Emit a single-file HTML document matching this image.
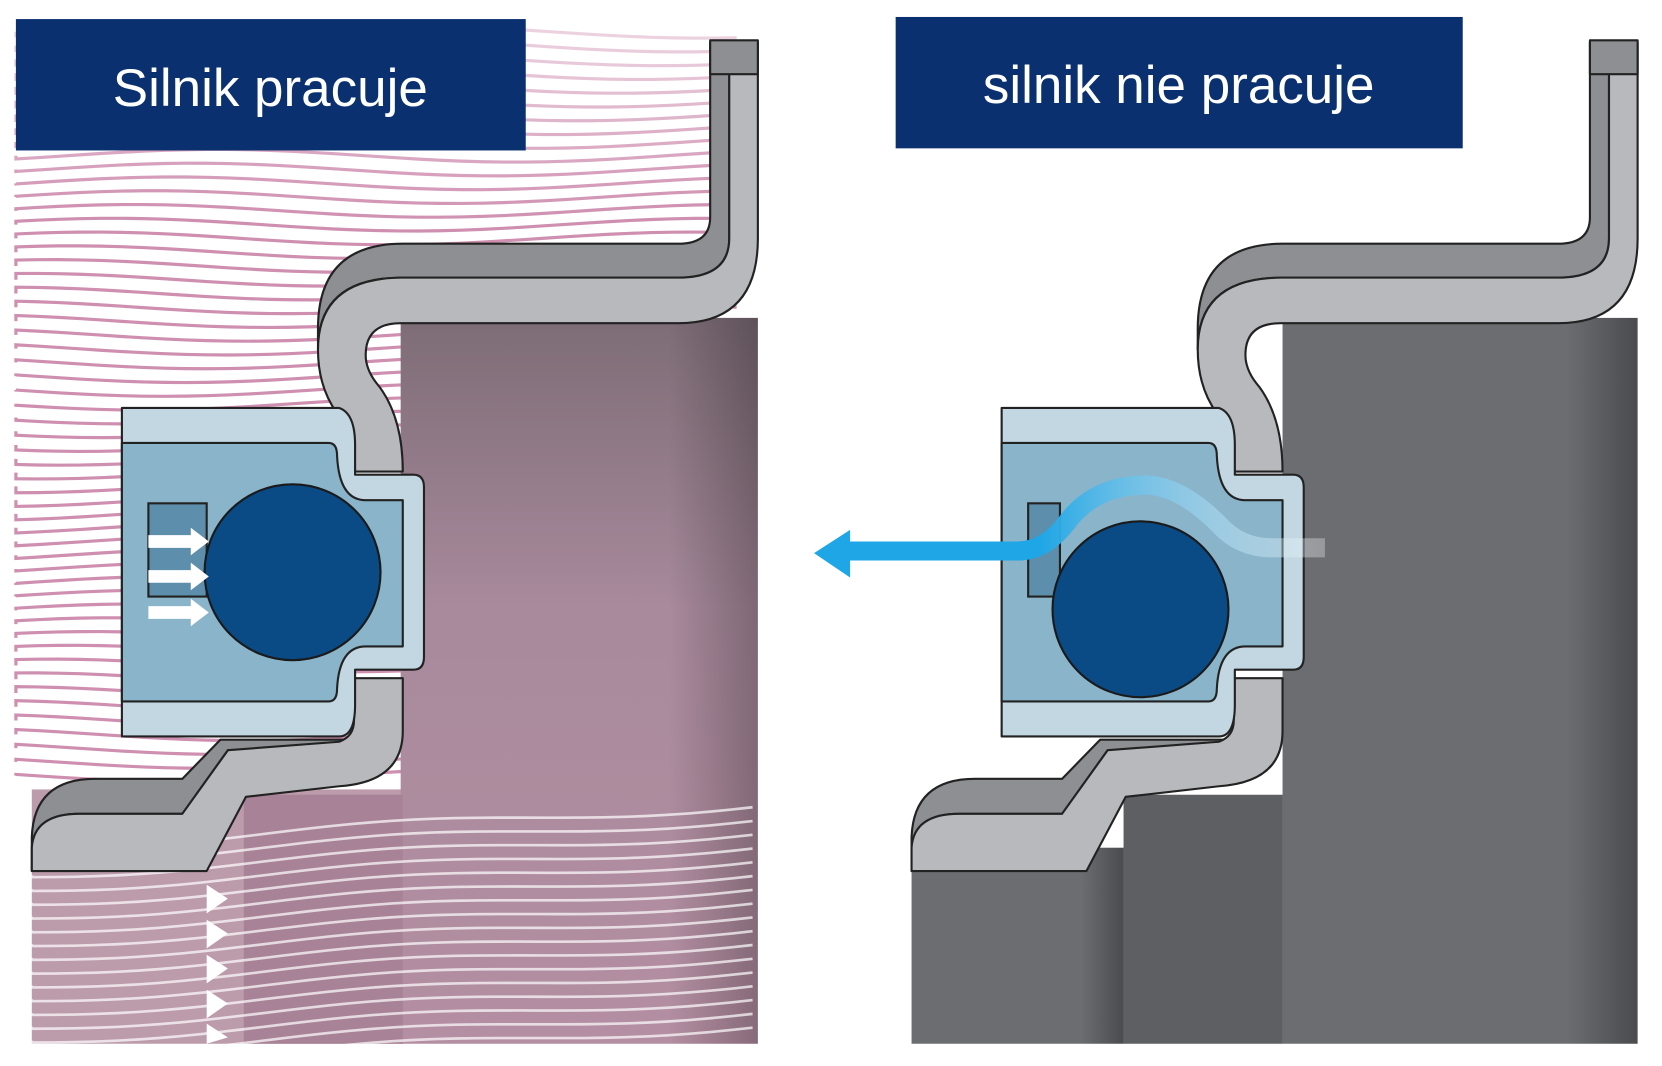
<!DOCTYPE html>
<html><head><meta charset="utf-8"><style>
html,body{margin:0;padding:0;background:#fff}
svg{display:block}
text{font-family:"Liberation Sans",sans-serif}
</style></head><body>
<svg id="s" width="1662" height="1066" viewBox="0 0 1568 1006" preserveAspectRatio="none" xmlns="http://www.w3.org/2000/svg">
<defs>
<linearGradient id="pk" x1="0" y1="0" x2="0" y2="1">
<stop offset="0" stop-color="#7d6c76"/><stop offset="0.4" stop-color="#a88a9c"/><stop offset="1" stop-color="#b48ea2"/></linearGradient>
<linearGradient id="pkh" x1="0" y1="0" x2="1" y2="0">
<stop offset="0" stop-color="#000" stop-opacity="0"/><stop offset="0.75" stop-color="#000" stop-opacity="0"/><stop offset="1" stop-color="#000" stop-opacity="0.25"/></linearGradient>
<linearGradient id="gr" x1="0" y1="0" x2="1" y2="0">
<stop offset="0" stop-color="#6c6d71"/><stop offset="0.8" stop-color="#6c6d71"/><stop offset="1" stop-color="#4a4b4e"/></linearGradient>
<linearGradient id="ar" x1="0" y1="0" x2="1" y2="0">
<stop offset="0" stop-color="#1ea6e6"/><stop offset="0.4" stop-color="#1ea6e6"/><stop offset="1" stop-color="#fff" stop-opacity="0.3"/></linearGradient>
</defs>
<g id="lines"></g>
<!-- left body -->
<rect x="378" y="300" width="337" height="685" fill="url(#pk)"/>
<rect x="378" y="300" width="337" height="685" fill="url(#pkh)"/>
<rect x="30" y="745" width="350" height="240" fill="#b08a9c" opacity="0.85"/>
<rect x="230" y="750" width="150" height="235" fill="#a88296"/>
<g id="wl"></g>
<!-- right body -->
<rect x="1210" y="300" width="335" height="685" fill="url(#gr)"/>
<rect x="860" y="800" width="200" height="185" fill="url(#gr)"/>
<rect x="1060" y="750" width="150" height="235" fill="#5e5f63"/>
<g id="hL" stroke="#222" stroke-width="2" stroke-linejoin="round">
<!-- housing top -->
<path d="M670,40 V205 Q670,230 640,230 H380 Q300,230 300,310 V330 Q300,262 380,262 H640 Q688,262 688,225 V40 Z" fill="#8e8f93"/>
<path d="M715,40 V225 Q715,305 640,305 H378 Q345,305 345,335 Q345,350 358,365 Q380,395 380,445 H332 V430 Q332,405 318,390 Q300,365 300,330 Q300,262 380,262 H640 Q688,262 688,225 V40 Z" fill="#b8b9bc"/>
<rect x="670" y="38" width="45" height="32" fill="#8e8f93"/>
<!-- housing bottom -->
<path d="M30,822 V790 Q32,735 90,735 H172 L208,698 H335 V720 L215,708 L172,768 H75 Q32,768 32,800 Z" fill="#8e8f93"/>
<path d="M380,640 V690 Q380,738 320,742 L232,752 L195,822 H30 V800 Q32,768 75,768 H172 L215,708 L320,700 Q334,695 334,680 V640 Z" fill="#b8b9bc"/>
<!-- seal -->
<path d="M115,385 H320 Q335,390 335,420 V448 H390 Q400,448 400,460 V620 Q400,632 390,632 H335 V665 Q335,695 320,695 H115 Z" fill="#c2d7e2"/>
<path d="M115,418 H310 Q318,418 318,430 Q320,472 345,472 H380 V610 H345 Q320,610 318,650 Q318,662 310,662 H115 Z" fill="#8ab4ca"/>
</g>
<use href="#hL" transform="translate(830,0)"/>
<rect x="140" y="475" width="55" height="88" fill="#5d8eab" stroke="#222" stroke-width="2"/>
<rect x="970" y="475" width="30" height="88" fill="#5d8eab" stroke="#222" stroke-width="2"/>
<circle cx="276" cy="540" r="83" fill="#0a4a85" stroke="#1a1a1a" stroke-width="2"/>
<circle cx="1076" cy="575" r="83" fill="#0a4a85" stroke="#1a1a1a" stroke-width="2"/>
<path d="M1250,517 H1200 Q1170,517 1150,495 Q1110,455 1075,458 Q1030,460 1005,495 Q985,520 960,520 H800" fill="none" stroke="url(#ar)" stroke-width="18"/>
<polygon points="768,522 802,500 802,545" fill="#1ea6e6"/>
<!-- white arrows -->
<g fill="#fff">
<polygon points="140,505 180,505 180,498 197,511 180,524 180,517 140,517"/>
<polygon points="140,538 180,538 180,531 197,544 180,557 180,550 140,550"/>
<polygon points="140,572 180,572 180,565 197,578 180,591 180,584 140,584"/>
<polygon points="195,835 215,848 195,862"/>
<polygon points="195,868 215,881 195,895"/>
<polygon points="195,901 215,914 195,928"/>
<polygon points="195,934 215,947 195,961"/>
<polygon points="195,966 215,979 195,985"/>
</g>
<rect x="15" y="18" width="481" height="124" fill="#0a3070"/>
<text x="255" y="100" font-size="50" fill="#fff" text-anchor="middle">Silnik pracuje</text>
<rect x="845" y="16" width="535" height="124" fill="#0a3070"/>
<text x="1112" y="97" font-size="50" fill="#fff" text-anchor="middle">silnik nie pracuje</text>
</svg>
<script>
var ns="http://www.w3.org/2000/svg",g=document.getElementById("lines"),w=document.getElementById("wl");
for(var y=30;y<745;y+=13){var p=document.createElementNS(ns,"path");var d="M15,"+y;for(var x=15;x<=700;x+=20){d+=" L"+x+","+(y+6*Math.sin(x/90+y/60))}p.setAttribute("d",d);p.setAttribute("fill","none");p.setAttribute("stroke","#cf8fb0");p.setAttribute("stroke-width","3");p.setAttribute("opacity",Math.min(1,0.3+y/300));g.appendChild(p)}
for(var y=770;y<990;y+=13){var p=document.createElementNS(ns,"path");var d="M30,"+(y+30);for(var x=30;x<=715;x+=20){d+=" L"+x+","+(y+30-(x-30)*0.06+5*Math.sin(x/80))}p.setAttribute("d",d);p.setAttribute("fill","none");p.setAttribute("stroke","#fff");p.setAttribute("stroke-width","2.5");p.setAttribute("opacity","0.7");w.appendChild(p)}
</script>
</body></html>
